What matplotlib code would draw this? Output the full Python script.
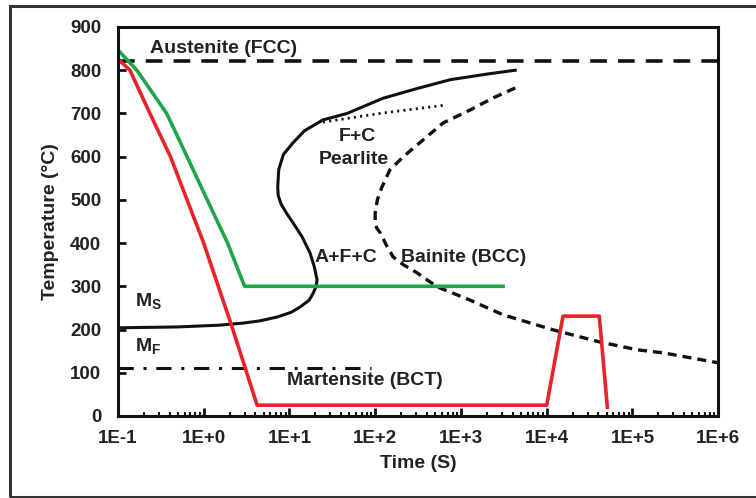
import numpy as np
import matplotlib.pyplot as plt
from matplotlib.patches import Rectangle

plt.rcParams['font.family'] = ['Liberation Sans', 'DejaVu Sans']
plt.rcParams['font.weight'] = 'bold'
plt.rcParams['mathtext.fontset'] = 'custom'
plt.rcParams['mathtext.rm'] = 'Liberation Sans:bold'
plt.rcParams['mathtext.bf'] = 'Liberation Sans:bold'
plt.rcParams['lines.scale_dashes'] = False

# data (time in s, temperature in degC)
austenite_T = 822
martensite_finish_T = 111
martensite_line_end = 90

green_t = [0.1, 0.166, 0.37, 0.64, 1.1, 1.9, 3.0, 3100]
green_T = [847, 800, 700, 600, 500, 400, 300, 300]

red_t = [0.1, 0.138, 0.236, 0.41, 0.64, 1.0, 2.14, 4.2, 1.0e4, 1.55e4, 4.1e4, 5.1e4]
red_T = [826, 800, 700, 600, 500, 400, 206, 25, 25, 231, 231, 20]

# pearlite start curve (joins the Ms line at the left)
start_t = [0.1, 0.49, 1.5, 2.9, 4.5, 7.2, 10.5, 13.3, 17, 19, 20.5, 21, 19.5, 17.4,
           14, 11, 9.2, 8.0, 7.4, 7.3, 7.5, 8.5, 11, 15, 24.6, 47, 123, 300, 748, 2000, 4300]
start_T = [204, 206, 210, 215, 220, 229, 240, 252, 268, 285, 300, 315, 345, 377,
           415, 447, 470, 490, 510, 530, 570, 605, 632, 660, 685, 700, 735, 757, 778, 791, 800]

# pearlite finish / bainite curve
finish_t = [4300, 2380, 1280, 620, 330, 213, 148, 120, 106, 100, 100, 104, 115, 135, 162,
            213, 309, 525, 1280, 3100, 1.2e4, 4.2e4, 1.15e5, 2.3e5, 1e6]
finish_T = [759, 736, 708, 678, 632, 600, 569, 530, 500, 470, 450, 435, 423, 395, 368,
            350, 331, 299, 268, 234, 199, 171, 153, 146, 123]

dotted_t = [24.6, 123, 640]
dotted_T = [680, 701, 719]

tick_pos = [1e-1, 1e0, 1e1, 1e2, 1e3, 1e4, 1e5, 1e6]
tick_lab = ['1E-1', '1E+0', '1E+1', '1E+2', '1E+3', '1E+4', '1E+5', '1E+6']

fig = plt.figure(figsize=(7.56, 4.98), dpi=100)
ax = fig.add_axes([0.156, 0.1647, 0.794, 0.7811])

ax.plot([0.1, 1e6], [austenite_T, austenite_T], color='#111111', lw=2.6, dashes=(12, 8))
ax.plot([0.1, martensite_line_end], [martensite_finish_T, martensite_finish_T],
        color='#111111', lw=2.2, dashes=(11, 7, 2.2, 7))
ax.plot(start_t, start_T, color='#111111', lw=2.2)
ax.plot(finish_t, finish_T, color='#111111', lw=2.4, dashes=(6.5, 4.3))
ax.plot(dotted_t, dotted_T, color='#111111', lw=2.0, dashes=(1.5, 3))
ax.plot(green_t, green_T, color='#1fa64a', lw=2.6)
ax.plot(red_t, red_T, color='#e8232a', lw=2.6)

txt = dict(fontsize=14, fontweight='bold', color='#222222', va='center', ha='left')
ax.text(0.236, 851, 'Austenite (FCC)', **txt)
ax.text(38, 646, 'F+C', **txt)
ax.text(22, 593, 'Pearlite', **txt)
ax.text(19.5, 366, 'A+F+C', **txt)
ax.text(200, 366, 'Bainite (BCC)', **txt)
ax.text(9.3, 83, 'Martensite (BCT)', **txt)
ax.text(0.158, 264, r'M$_\mathbf{S}$', **txt)
ax.text(0.158, 160, r'M$_\mathbf{F}$', **txt)

ax.set_xscale('log')
ax.set_xlim(0.1, 1e6)
ax.set_ylim(0, 900)
ax.set_xticks(tick_pos)
ax.set_xticklabels(tick_lab)
ax.set_yticks(np.arange(0, 1000, 100))
ax.tick_params(axis='both', which='major', direction='in', length=6, width=2,
               labelsize=13.5, colors='#111111', labelcolor='#222222')
ax.tick_params(axis='x', which='major', pad=10)
ax.tick_params(axis='y', which='major', pad=12)
ax.tick_params(axis='x', which='minor', direction='in', length=3, width=1.5, colors='#111111')
ax.tick_params(axis='y', which='minor', left=False)
for s in ax.spines.values():
    s.set_linewidth(2.2)
    s.set_color('#111111')

ax.set_xlabel('Time (S)', fontsize=14, fontweight='bold', color='#222222', labelpad=6)
ax.set_ylabel('Temperature (\u00b0C)', fontsize=14, fontweight='bold', color='#222222', labelpad=8)

# frame around the whole picture
fig.patches.append(Rectangle((0.0132, 0.002), 1.0, 0.986, transform=fig.transFigure,
                             fill=False, lw=2.2, edgecolor='#333333', clip_on=False))

fig.savefig('out.png', dpi=100)
